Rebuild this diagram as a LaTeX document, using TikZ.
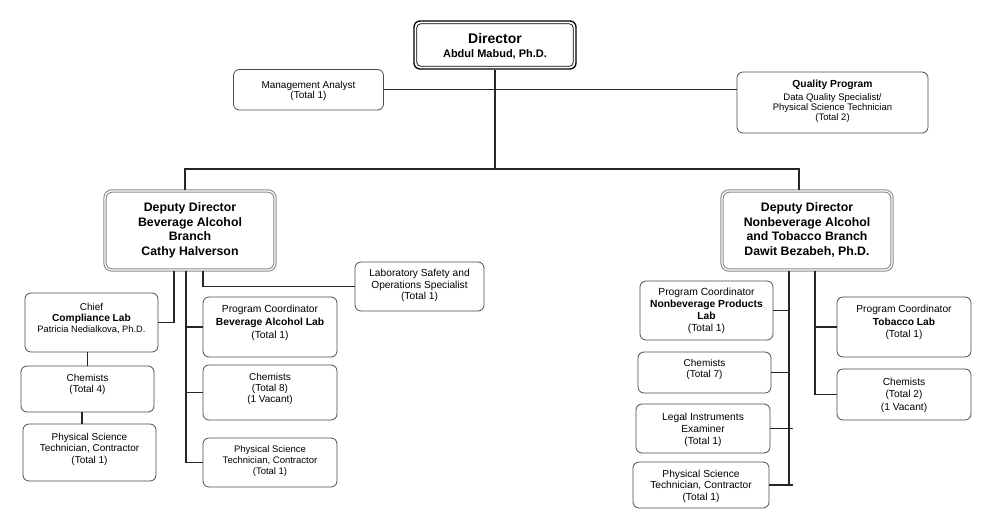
\documentclass[tikz,border=0pt]{standalone}
\usepackage{fontspec}
\setmainfont{Liberation Sans}
\usetikzlibrary{fit,calc}
\tikzset{
  box/.style={draw=black!70, line width=0.8pt, rounded corners=6pt, inner sep=0pt, fill=white},
  depbox/.style={draw=black!45, double=white, line width=1.1pt, double distance=1.2pt, rounded corners=7pt, inner sep=0pt},
  dirbox/.style={draw=black, line width=1.3pt, rounded corners=6pt, inner sep=0pt},
  txt/.style={align=center, inner sep=0pt},
  conn/.style={draw=black!85, line width=1.3pt},
  thinconn/.style={draw=black!85, line width=1pt},
}
% name, x1, y1, x2, y2, box style, text top y, font, text
\newcommand\orgbox[9]{%
  \path (#2,#3) coordinate (#1-a) (#4,#5) coordinate (#1-b);
  \node[#6, fit=(#1-a)(#1-b)] (#1) {};
  \node[txt, font=#8, anchor=north] (#1-t) at (#1.center |- 0,#7) {#9};
}
\begin{document}
\begin{tikzpicture}[x=1pt,y=-1pt]
\useasboundingbox (0,0) rectangle (1000,514);
\fill[white] (0,0) rectangle (1000,514);

% top level
\orgbox{dir}{414}{21}{576}{69}{dirbox}{32.8}{\fontsize{11}{14}\selectfont\bfseries}{{\fontsize{14}{14}\selectfont Director}\\Abdul Mabud, Ph.D.}
\draw[black, line width=0.7pt, rounded corners=4pt] ($(dir.north west)+(3.4,3.4)$) rectangle ($(dir.south east)+(-3.4,-3.4)$);
\orgbox{ma}{233.5}{69.5}{383.5}{110}{box}{81}{\fontsize{10}{10.3}\selectfont}{Management Analyst\\(Total 1)}
\orgbox{qp}{737}{72}{928}{133}{box}{80.3}{\fontsize{9.5}{10}\selectfont}{{\bfseries\fontsize{10.3}{10}\selectfont Quality Program}\\[3pt]Data Quality Specialist/\\Physical Science Technician\\(Total 2)}

% deputies
\orgbox{depB}{105}{191}{275}{270}{depbox}{202.7}{\fontsize{12.3}{14.4}\selectfont\bfseries}{Deputy Director\\Beverage Alcohol\\Branch\\Cathy Halverson}
\orgbox{depN}{722}{191}{892}{270}{depbox}{202.7}{\fontsize{12.3}{14.4}\selectfont\bfseries}{Deputy Director\\Nonbeverage Alcohol\\and Tobacco Branch\\Dawit Bezabeh, Ph.D.}

% left branch
\orgbox{lab}{355}{262}{484}{311}{box}{269}{\fontsize{10.2}{11.5}\selectfont}{Laboratory Safety and\\Operations Specialist\\(Total 1)}
\orgbox{chief}{25}{293}{158}{352}{box}{302.7}{\fontsize{10}{11.3}\selectfont}{Chief\\\textbf{\fontsize{10.2}{11.3}\selectfont Compliance Lab}\\{\fontsize{9.3}{11}\selectfont Patricia Nedialkova, Ph.D.}}
\orgbox{chemA}{21}{366}{154}{412}{box}{373.7}{\fontsize{10}{11.3}\selectfont}{Chemists\\(Total 4)}
\orgbox{psl}{23}{424}{156}{481}{box}{432.7}{\fontsize{10}{11.7}\selectfont}{Physical Science\\Technician, Contractor\\(Total 1)}
\orgbox{pcb}{203}{297}{337}{357}{box}{305.2}{\fontsize{10.3}{13}\selectfont}{Program Coordinator\\\textbf{Beverage Alcohol Lab}\\(Total 1)}
\orgbox{chemB}{203}{365}{337}{420}{box}{372.7}{\fontsize{10}{11}\selectfont}{Chemists\\(Total 8)\\(1 Vacant)}
\orgbox{psc}{203}{438}{337}{487}{box}{445.8}{\fontsize{9.5}{11}\selectfont}{Physical Science\\Technician, Contractor\\(Total 1)}

% right branch
\orgbox{pcn}{640}{281}{773}{340}{box}{288.2}{\fontsize{10.3}{12}\selectfont}{Program Coordinator\\\textbf{Nonbeverage Products}\\\textbf{Lab}\\(Total 1)}
\orgbox{chemC}{638}{352}{771}{393}{box}{359.4}{\fontsize{10}{11}\selectfont}{Chemists\\(Total 7)}
\orgbox{legal}{636}{404}{770}{453}{box}{412.5}{\fontsize{10.3}{12}\selectfont}{Legal Instruments\\Examiner\\(Total 1)}
\orgbox{psr}{633}{462}{769}{508}{box}{469.5}{\fontsize{10.2}{11.5}\selectfont}{Physical Science\\Technician, Contractor\\(Total 1)}
\orgbox{tob}{837}{297}{971}{357}{box}{305.2}{\fontsize{10.2}{12.5}\selectfont}{Program Coordinator\\\textbf{Tobacco Lab}\\(Total 1)}
\orgbox{chemD}{837}{369}{971}{420}{box}{377.5}{\fontsize{10.2}{12.5}\selectfont}{Chemists\\(Total 2)\\(1 Vacant)}

% connectors
\coordinate (busL) at (185,169);
\coordinate (busR) at (799,169);
\coordinate (tA) at (174,0);
\coordinate (tB) at (186,0);
\coordinate (tC) at (203,0);
\coordinate (tD) at (82,0);
\coordinate (tE) at (789,0);
\coordinate (tF) at (815,0);

\draw[conn] (ma.east) -- (qp.west |- ma.east);
\draw[conn] (dir.south) -- (dir.south |- busL);
\draw[conn] (depB.north -| busL) -- (busL) -- (busR) -- (depN.north -| busR);

\draw[conn] (depB.south -| tA) |- (chief.east);
\draw[conn] (depB.south -| tB) |- (psc.west);
\draw[conn] (pcb.west -| tB) -- (pcb.west);
\draw[conn] (chemB.west -| tB) -- (chemB.west);
\draw[conn] (depB.south -| tC) |- (lab.west);
\draw[thinconn] (chemA.north) -- (chemA.north |- chief.south);
\draw[conn] (chemA.south -| tD) -- (psl.north -| tD);

\draw[conn] (depN.south -| tE) -- (psr.east -| tE);
\draw[conn] (pcn.east) -- (pcn.east -| tE);
\draw[conn] (chemC.east) -- (chemC.east -| tE);
\draw[conn] (legal.east) -- ($(legal.east -| tE)+(4,0)$);
\draw[conn] (psr.east) -- ($(psr.east -| tE)+(4,0)$);
\draw[conn] (depN.south -| tF) |- (chemD.west);
\draw[conn] (tob.west -| tF) -- (tob.west);
\end{tikzpicture}
\end{document}
